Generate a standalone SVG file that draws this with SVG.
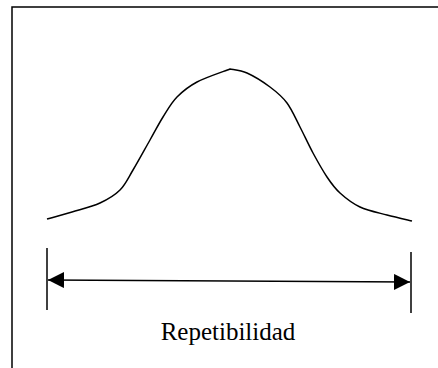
<svg xmlns="http://www.w3.org/2000/svg" width="438" height="368" viewBox="0 0 438 368">
<style>
.ln{fill:none;stroke:#000;stroke-width:1.5}
.lbl{font-family:"Liberation Serif",serif;font-size:25px;fill:#000}
</style>
<defs>
<marker id="ah" viewBox="0 0 16 16" refX="16" refY="8" markerWidth="16" markerHeight="16" markerUnits="userSpaceOnUse" orient="auto-start-reverse">
<path d="M0,0 L16,8 L0,16 Z" fill="#000"/>
</marker>
</defs>
<rect width="438" height="368" fill="#fff"/>
<g id="frame">
<path class="ln" d="M12,368 L12,7 L438,7" stroke-width="1.3"/>
</g>
<g id="curve">
<path class="ln" d="M47,219 C51.2,217.8 63.2,214.7 72,212 C80.8,209.3 92,206.7 100,203 C108,199.3 114.5,195.5 120,190 C125.5,184.5 128,178.3 133,170 C138,161.7 145,148.8 150,140 C155,131.2 158.5,124.2 163,117 C167.5,109.8 171.3,102.8 177,97 C182.7,91.2 188.2,86.7 197,82 C205.8,77.3 224.5,71.2 230,69 C232.8,69.7 240.3,70 247,73 C253.7,76 263.3,82 270,87 C276.7,92 282,96.3 287,103 C292,109.7 295.7,118.7 300,127 C304.3,135.3 308.5,144.7 313,153 C317.5,161.3 322.5,170.3 327,177 C331.5,183.7 334.5,188 340,193 C345.5,198 352.2,203.3 360,207 C367.8,210.7 378.3,212.7 387,215 C395.7,217.3 407.8,220 412,221"/>
</g>
<g id="connectors">
<line class="ln" x1="47" y1="248" x2="47" y2="310"/>
<line class="ln" x1="411" y1="252" x2="411" y2="313"/>
<line class="ln" x1="48" y1="280" x2="410" y2="282" marker-start="url(#ah)" marker-end="url(#ah)"/>
</g>
<g id="label">
<text class="lbl" x="228" y="340" text-anchor="middle">Repetibilidad</text>
</g>
</svg>
